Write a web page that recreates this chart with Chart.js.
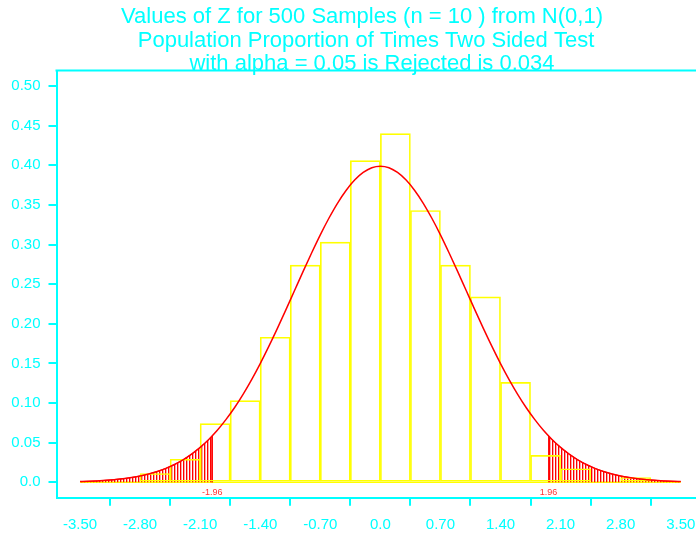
<!DOCTYPE html>
<html>
<head>
<meta charset="utf-8">
<title>Values of Z for 500 Samples</title>
<script src="https://cdn.jsdelivr.net/npm/chart.js@4/dist/chart.umd.min.js"></script>
<style>
  body { margin: 0; background: #ffffff; }
</style>
</head>
<body>
<canvas id="chart-z" width="696" height="538"></canvas>
<script>
// title text, one entry per line
var titleLines = [
  "Values of Z for 500 Samples (n = 10 ) from N(0,1)",
  "Population Proportion of Times Two Sided Test",
  "with alpha = 0.05 is Rejected is 0.034"
];

// histogram: bin centres (width 0.35) and density heights
var binCenters = [-3.325, -2.975, -2.625, -2.275, -1.925, -1.575, -1.225, -0.875, -0.525, -0.175,
                   0.175,  0.525,  0.875,  1.225,  1.575,  1.925,  2.275,  2.625,  2.975,  3.325];
var binHeights = [0, 0, 0.011, 0.029, 0.074, 0.103, 0.183, 0.274, 0.303, 0.406,
                  0.440, 0.343, 0.274, 0.234, 0.126, 0.034, 0.017, 0, 0.006, 0];

// N(0,1) density curve
var curveX = [-3.5, -3.4, -3.3, -3.2, -3.1, -3.0, -2.9, -2.8, -2.7, -2.6, -2.5, -2.4, -2.3, -2.2, -2.1,
              -2.0, -1.9, -1.8, -1.7, -1.6, -1.5, -1.4, -1.3, -1.2, -1.1, -1.0, -0.9, -0.8, -0.7, -0.6,
              -0.5, -0.4, -0.3, -0.2, -0.1, 0.0, 0.1, 0.2, 0.3, 0.4, 0.5, 0.6, 0.7, 0.8, 0.9,
              1.0, 1.1, 1.2, 1.3, 1.4, 1.5, 1.6, 1.7, 1.8, 1.9, 2.0, 2.1, 2.2, 2.3, 2.4,
              2.5, 2.6, 2.7, 2.8, 2.9, 3.0, 3.1, 3.2, 3.3, 3.4, 3.5];
var curveY = [0.0009, 0.0012, 0.0017, 0.0024, 0.0033, 0.0044, 0.0060, 0.0079, 0.0104, 0.0136, 0.0175, 0.0224, 0.0283, 0.0355, 0.0440,
              0.0540, 0.0656, 0.0790, 0.0940, 0.1109, 0.1295, 0.1497, 0.1714, 0.1942, 0.2179, 0.2420, 0.2661, 0.2897, 0.3123, 0.3332,
              0.3521, 0.3683, 0.3814, 0.3910, 0.3970, 0.3989, 0.3970, 0.3910, 0.3814, 0.3683, 0.3521, 0.3332, 0.3123, 0.2897, 0.2661,
              0.2420, 0.2179, 0.1942, 0.1714, 0.1497, 0.1295, 0.1109, 0.0940, 0.0790, 0.0656, 0.0540, 0.0440, 0.0355, 0.0283, 0.0224,
              0.0175, 0.0136, 0.0104, 0.0079, 0.0060, 0.0044, 0.0033, 0.0024, 0.0017, 0.0012, 0.0009];

// rejection cut-off and its density
var cutZ = 1.96;
var cutDensity = 0.0584;
var cutLabels = ["-1.96", "1.96"];

// axis ticks
var xTickValues = [-3.5, -2.8, -2.1, -1.4, -0.7, 0, 0.7, 1.4, 2.1, 2.8, 3.5];
var xTickLabels = ["-3.50", "-2.80", "-2.10", "-1.40", "-0.70", "0.0", "0.70", "1.40", "2.10", "2.80", "3.50"];
var yTickValues = [0, 0.05, 0.10, 0.15, 0.20, 0.25, 0.30, 0.35, 0.40, 0.45, 0.50];
var yTickLabels = ["0.0", "0.05", "0.10", "0.15", "0.20", "0.25", "0.30", "0.35", "0.40", "0.45", "0.50"];

var CYAN = '#00ffff';
var FONT = '"Liberation Sans", Arial, sans-serif';

function points(xs, ys) {
  var out = [];
  for (var i = 0; i < xs.length; i++) out.push({x: xs[i], y: ys[i]});
  return out;
}

var curvePts = points(curveX, curveY);

// tails beyond +-1.96, closed down to the baseline at the cut
var leftTail = curvePts.filter(function(p) { return p.x <= -cutZ; });
leftTail.push({x: -cutZ, y: cutDensity}, {x: -cutZ, y: 0});
var rightTail = [{x: cutZ, y: 0}, {x: cutZ, y: cutDensity}].concat(
  curvePts.filter(function(p) { return p.x >= cutZ; }));

// vertical red stripes for the rejection regions
var stripe = document.createElement('canvas');
stripe.width = 3;
stripe.height = 4;
var sctx = stripe.getContext('2d');
sctx.fillStyle = '#ff0000';
sctx.fillRect(0, 0, 1, 4);
sctx.fillStyle = 'rgba(255,0,0,0.35)';
sctx.fillRect(1, 0, 1, 4);
var hatch = document.getElementById('chart-z').getContext('2d').createPattern(stripe, 'repeat');

var extras = {
  id: 'extras',
  afterDraw: function(chart) {
    var ctx = chart.ctx;
    var area = chart.chartArea;
    var xs = chart.scales.x;
    var ys = chart.scales.y;
    ctx.save();

    // top edge of the frame
    ctx.strokeStyle = CYAN;
    ctx.lineWidth = 2;
    ctx.beginPath();
    ctx.moveTo(area.left - 1, area.top);
    ctx.lineTo(area.right, area.top);
    ctx.stroke();

    // cut-off labels under the baseline
    ctx.fillStyle = '#ff3333';
    ctx.font = '9px ' + FONT;
    ctx.textAlign = 'center';
    ctx.textBaseline = 'middle';
    ctx.fillText(cutLabels[0], xs.getPixelForValue(-cutZ), ys.getPixelForValue(0) + 10);
    ctx.fillText(cutLabels[1], xs.getPixelForValue(cutZ), ys.getPixelForValue(0) + 10);

    // three line title
    var titleX = [362, 366, 372];
    ctx.fillStyle = CYAN;
    ctx.font = '22px ' + FONT;
    ctx.textBaseline = 'alphabetic';
    for (var i = 0; i < titleLines.length; i++) {
      ctx.fillText(titleLines[i], titleX[i], 23 + i * 23.5);
    }
    ctx.restore();
  }
};

new Chart(document.getElementById('chart-z'), {
  type: 'bar',
  data: {
    datasets: [{
      type: 'line',
      data: curvePts,
      borderColor: '#ff0000',
      borderWidth: 1.5,
      pointRadius: 0,
      cubicInterpolationMode: 'monotone',
      fill: false,
      order: 0
    }, {
      type: 'bar',
      data: points(binCenters, binHeights),
      backgroundColor: 'rgba(0,0,0,0)',
      borderColor: '#ffff00',
      borderWidth: 1,
      borderSkipped: false,
      barPercentage: 1,
      categoryPercentage: 1,
      order: 1
    }, {
      type: 'line',
      data: leftTail,
      borderColor: '#ff0000',
      borderWidth: 1,
      backgroundColor: hatch,
      pointRadius: 0,
      tension: 0,
      fill: 'origin',
      order: 2
    }, {
      type: 'line',
      data: rightTail,
      borderColor: '#ff0000',
      borderWidth: 1,
      backgroundColor: hatch,
      pointRadius: 0,
      tension: 0,
      fill: 'origin',
      order: 2
    }, {
      // yellow baseline across all bins
      type: 'line',
      data: [{x: xTickValues[0], y: 0}, {x: xTickValues[xTickValues.length - 1], y: 0}],
      borderColor: '#ffff00',
      borderWidth: 1.5,
      pointRadius: 0,
      fill: false,
      order: 3
    }]
  },
  options: {
    responsive: false,
    animation: false,
    layout: { padding: { left: 0, top: 70.5, right: 0, bottom: 0 } },
    plugins: {
      legend: { display: false },
      tooltip: { enabled: false },
      title: { display: false }
    },
    scales: {
      x: {
        type: 'linear',
        offset: false,
        min: -3.774,
        max: 3.678,
        afterBuildTicks: function(axis) {
          axis.ticks = xTickValues.map(function(v) { return {value: v}; });
        },
        afterFit: function(axis) {
          axis.height = 40.3;
          axis.paddingLeft = 0;
          axis.paddingRight = 0;
        },
        ticks: {
          color: CYAN,
          font: { family: FONT, size: 15 },
          padding: 10,
          autoSkip: false,
          maxRotation: 0,
          callback: function(v, i) { return xTickLabels[i]; }
        },
        grid: { drawOnChartArea: false, color: CYAN, lineWidth: 2, tickLength: 8 },
        border: { color: CYAN, width: 2 }
      },
      y: {
        min: -0.0195,
        max: 0.5197,
        afterBuildTicks: function(axis) {
          axis.ticks = yTickValues.map(function(v) { return {value: v}; });
        },
        afterFit: function(axis) {
          axis.width = 56.5;
          axis.paddingTop = 0;
          axis.paddingBottom = 0;
        },
        ticks: {
          color: CYAN,
          font: { family: FONT, size: 15 },
          padding: 8,
          callback: function(v, i) { return yTickLabels[i]; }
        },
        grid: { drawOnChartArea: false, color: CYAN, lineWidth: 2, tickLength: 8 },
        border: { color: CYAN, width: 2 }
      }
    }
  },
  plugins: [extras]
});
</script>
</body>
</html>
